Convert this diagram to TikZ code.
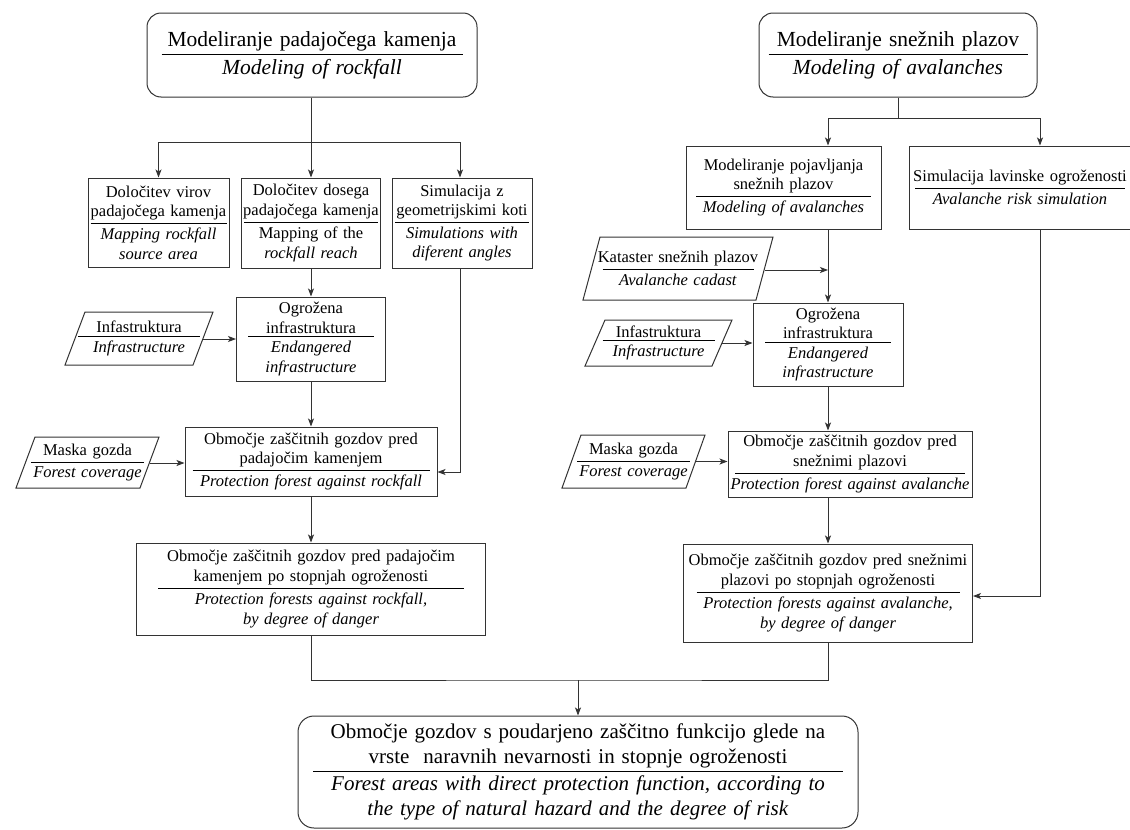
\documentclass[tikz,border=0pt]{standalone}
\usepackage{fontspec}
\setmainfont{Liberation Serif}
\usetikzlibrary{arrows.meta,calc}
\newcommand\dv[3]{#2\par\nointerlineskip\vspace{3pt}\hbox to\hsize{\hss\vrule width #1pt height 0.9pt depth 0pt\hss}\nointerlineskip\vspace{4pt}\textit{#3}}
\begin{document}
\begin{tikzpicture}[x=1pt,y=-1pt,
  box/.style={draw=black!80, line width=1pt, fill=white, align=center, inner sep=0pt,
    font=\fontsize{16.5}{19.5}\selectfont},
  rbox/.style={box, rounded corners=14pt, font=\fontsize{21.5}{25}\selectfont},
  ptext/.style={align=center, inner sep=0pt, text width=180, font=\fontsize{16.5}{19.5}\selectfont},
  para/.style={draw=black!80, line width=1pt},
  ln/.style={draw=black!80, line width=0.9pt},
  arr/.style={ln, -{Stealth[length=8pt,width=6pt,inset=2pt]}}]
\fill[white] (0,0) rectangle (1130,830);
\useasboundingbox (0,0) rectangle (1130,830);
% ---------- left column ----------
\node[rbox, minimum width=330, minimum height=84, text width=326] (tl) at (312,55)
  {\dv{301}{Modeliranje padajočega kamenja}{Modeling of rockfall}};
\node[box, minimum width=141, minimum height=89, text width=139] (b1) at (158.5,222.5)
  {\dv{136}{Določitev virov\\padajočega kamenja}{Mapping rockfall\\source area}};
\node[box, minimum width=139, minimum height=90, text width=137] (b2) at (311,223)
  {\dv{134}{Določitev dosega\\padajočega kamenja}{\upshape Mapping of the\\\itshape rockfall reach}};
\node[box, minimum width=140, minimum height=90, text width=138] (b3) at (462,223)
  {\dv{134}{Simulacija z\\geometrijskimi koti}{Simulations with\\diferent angles}};
\node[box, minimum width=149, minimum height=84, text width=145] (logr) at (311,339)
  {\dv{126}{Ogrožena\\infrastruktura}{Endangered\\infrastructure}};
\node[box, minimum width=252, minimum height=69, text width=248] (lzas) at (311,461.5)
  {\dv{237}{Območje zaščitnih gozdov pred\\padajočim kamenjem}{Protection forest against rockfall}};
\node[box, minimum width=349, minimum height=92, text width=345] (lbot) at (311,589)
  {\dv{306}{Območje zaščitnih gozdov pred padajočim\\kamenjem po stopnjah ogroženosti}{Protection forests against rockfall,\\by degree of danger}};
% parallelograms left
\draw[para] (85,312) -- (213,312) -- (193,365) -- (65,365) -- cycle;
\node[ptext] (infl) at (139,338.5) {\dv{122}{Infastruktura}{Infrastructure}};
\draw[para] (35,437) -- (159,437) -- (140,488) -- (16,488) -- cycle;
\node[ptext] (maskl) at (87.5,462.5) {\dv{113}{Maska gozda}{Forest coverage}};
% ---------- right column ----------
\node[rbox, minimum width=278, minimum height=84, text width=274] (tr) at (898,55)
  {\dv{259}{Modeliranje snežnih plazov}{Modeling of avalanches}};
\node[box, minimum width=195, minimum height=83, text width=191] (rmod) at (783.5,187.5)
  {\dv{175}{Modeliranje pojavljanja\\snežnih plazov}{Modeling of avalanches}};
\node[box, minimum width=222, minimum height=83, text width=218] (rsim) at (1020,187.5)
  {\dv{210}{Simulacija lavinske ogroženosti}{Avalanche risk simulation}};
\draw[para] (600,237) -- (773,237) -- (756,300) -- (583,300) -- cycle;
\node[ptext] (kat) at (678,268.5) {\dv{151}{Kataster snežnih plazov}{Avalanche cadast}};
\node[box, minimum width=150, minimum height=83, text width=146] (rogr) at (828,344.5)
  {\dv{126}{Ogrožena\\infrastruktura}{Endangered\\infrastructure}};
\draw[para] (605,320) -- (732,320) -- (712,366) -- (585,366) -- cycle;
\node[ptext] (infr) at (658.5,343) {\dv{112}{Infastruktura}{Infrastructure}};
\node[box, minimum width=244, minimum height=66, text width=244] (rzas) at (850,464)
  {\dv{230}{Območje zaščitnih gozdov pred\\snežnimi plazovi}{Protection forest against avalanche}};
\draw[para] (581,435) -- (705,435) -- (686,488) -- (562,488) -- cycle;
\node[ptext] (maskr) at (633.5,461.5) {\dv{113}{Maska gozda}{Forest coverage}};
\node[box, minimum width=289, minimum height=98, text width=285] (rbot) at (828,593)
  {\dv{263}{Območje zaščitnih gozdov pred snežnimi\\plazovi po stopnjah ogroženosti}{Protection forests against avalanche,\\by degree of danger}};
% ---------- final ----------
\node[rbox, minimum width=560, minimum height=112, text width=556,
  font=\fontsize{21}{25}\selectfont, rounded corners=16pt] (fin) at (578,772)
  {\dv{530}{Območje gozdov s poudarjeno zaščitno funkcijo glede na\\vrste\ \ naravnih nevarnosti in stopnje ogroženosti}{Forest areas with direct protection function, according to\\the type of natural hazard and the degree of risk}};
% ---------- coordinates ----------
\coordinate (lj) at (311,142);
\coordinate (b3t) at (460,472);
\coordinate (infle) at (203,339);
\coordinate (maskle) at (150,463);
\coordinate (rj) at (898,118);
\coordinate (rx) at (828,0);
\coordinate (sx) at (1040,0);
\coordinate (rturn) at (1040,596);
\coordinate (kate) at (765,270);
\coordinate (infre) at (722,343);
\coordinate (maskre) at (696,461.5);
\coordinate (bj) at (578,680);
% ---------- connectors left ----------
\draw[ln] (tl.south -| lj) -- (lj);
\draw[arr] (lj) -| (b1.north);
\draw[arr] (lj) -- (b2.north);
\draw[arr] (lj) -| (b3.north -| b3t);
\draw[arr] (b2) -- (logr);
\draw[arr] (infle) -- (infle -| logr.west);
\draw[arr] (logr) -- (lzas);
\draw[arr] (b3.south -| b3t) -- (b3t) -- (b3t -| lzas.east);
\draw[arr] (maskle) -- (maskle -| lzas.west);
\draw[arr] (lzas) -- (lbot);
% ---------- connectors right ----------
\draw[ln] (tr.south) -- (rj);
\draw[arr] (rj) -| (rmod.north -| rx);
\draw[arr] (rj) -| (rsim.north -| sx);
\draw[arr] (rmod.south -| rx) -- (rogr.north);
\draw[arr] (kate) -- (kate -| rx);
\draw[arr] (infre) -- (infre -| rogr.west);
\draw[arr] (rogr.south) -- (rzas.north -| rx);
\draw[arr] (maskre) -- (maskre -| rzas.west);
\draw[arr] (rzas.south -| rx) -- (rbot.north);
\draw[arr] (rsim.south -| sx) -- (rturn) -- (rturn -| rbot.east);
% ---------- bottom ----------
\draw[ln] (lbot.south) |- (bj) -| (rbot.south);
\draw[arr] (bj) -- (fin.north);
\end{tikzpicture}
\end{document}
